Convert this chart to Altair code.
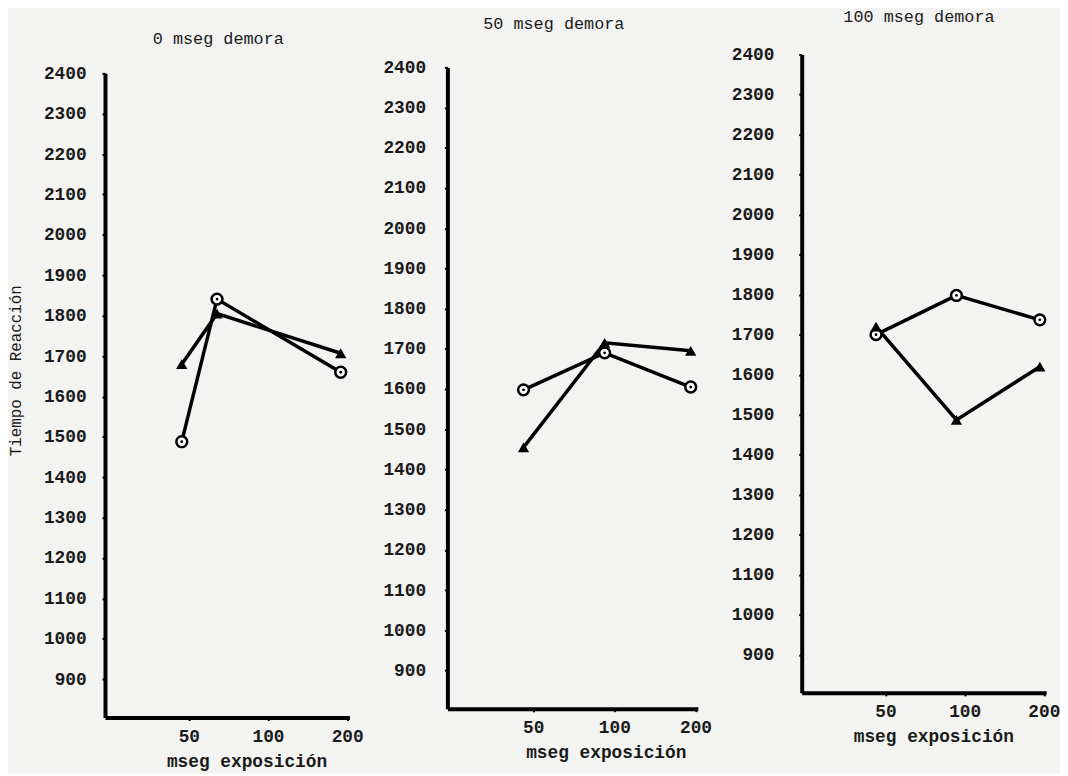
import altair as alt
import pandas as pd

# ---- data ----
panel_titles = ["0 mseg demora", "50 mseg demora", "100 mseg demora"]
exposure_ticks = [50, 100, 200]
rt_ticks = [900, 1000, 1100, 1200, 1300, 1400, 1500, 1600, 1700, 1800,
            1900, 2000, 2100, 2200, 2300, 2400]
series_names = ["circulo", "triangulo"]

# x positions (ms exposure, as plotted) and reaction times per panel
p1_x = [47, 64, 189]
p1_circle = [1488, 1841, 1660]
p1_triangle = [1680, 1805, 1707]

p2_x = [46, 92, 192]
p2_circle = [1598, 1690, 1605]
p2_triangle = [1455, 1715, 1695]

p3_x = [46, 93, 193]
p3_circle = [1700, 1798, 1737]
p3_triangle = [1720, 1487, 1620]

MONO = "Liberation Mono"
INK = "#1a1a1a"


def frame(xs, circ, tri):
    rows = []
    for x, c in zip(xs, circ):
        rows.append({"x": x, "y": c, "serie": series_names[0]})
    for x, t in zip(xs, tri):
        rows.append({"x": x, "y": t, "serie": series_names[1]})
    return pd.DataFrame(rows)


def spacer():
    return alt.Chart(pd.DataFrame({"v": [0]})).mark_point(size=1, opacity=0).encode(
        x=alt.value(0), y=alt.value(1)).properties(width=1, height=1)


def panel(df, title, title_offset, title_dx, width, height,
          label_pad, ytitle, xtitle_x):
    xenc = alt.X(
        "x:Q",
        scale=alt.Scale(type="log", domain=[24, 204], nice=False),
        axis=alt.Axis(values=exposure_ticks, format="d", title="mseg exposición",
                      titleX=xtitle_x, titleY=44, titleBaseline="middle",
                      titleAlign="center", labelPadding=7),
    )
    yaxis = dict(values=rt_ticks, format="d", labelPadding=label_pad)
    if ytitle:
        yaxis.update(title=ytitle, titleX=-90, titleY=300, titleAngle=270,
                     titleAlign="center", titleBaseline="middle",
                     titleFontWeight="normal", titleFontSize=16)
    else:
        yaxis.update(title=None)
    yenc = alt.Y("y:Q", scale=alt.Scale(domain=[805, 2400], nice=False, zero=False),
                 axis=alt.Axis(**yaxis))
    base = alt.Chart(df)
    line = base.mark_line(color="black", strokeWidth=3.5).encode(
        x=xenc, y=yenc, detail="serie:N")
    circles = base.transform_filter(alt.datum.serie == series_names[0]).mark_point(
        shape="circle", fill="white", stroke="black", strokeWidth=2.5,
        size=120, opacity=1, fillOpacity=1).encode(x=xenc, y=yenc)
    dots = base.transform_filter(alt.datum.serie == series_names[0]).mark_point(
        shape="circle", filled=True, color="black", size=8, opacity=1).encode(x=xenc, y=yenc)
    tris = base.transform_filter(alt.datum.serie == series_names[1]).mark_point(
        shape="triangle-up", filled=True, color="black", size=130,
        opacity=1).encode(x=xenc, y=yenc)
    return alt.layer(line, circles, dots, tris).properties(
        width=width, height=height,
        title=alt.TitleParams(text=title, font=MONO, fontSize=17, fontWeight="normal",
                              color=INK, offset=title_offset, anchor="middle",
                              dx=title_dx),
    )


c1 = panel(frame(p1_x, p1_circle, p1_triangle), panel_titles[0], 17, -9,
           247, 651, 16, "Tiempo de Reacción", 143)
c2 = panel(frame(p2_x, p2_circle, p2_triangle), panel_titles[1], 26, -19,
           253, 648, 19, None, 160)
c3 = panel(frame(p3_x, p3_circle, p3_triangle), panel_titles[2], 20, -5,
           247, 645, 25, None, 133)

col1 = alt.vconcat(spacer(), c1, spacing=22)
col2 = alt.vconcat(spacer(), c2, spacing=7)
col3 = alt.vconcat(spacer(), c3, spacing=0)

chart = alt.hconcat(col1, col2, col3, spacing=19).properties(
    padding={"left": 0, "top": -6, "right": 0, "bottom": 0},
    background="#f3f3f1",
).configure_view(stroke=None).configure_axis(
    grid=False,
    domainColor="black", domainWidth=4,
    tickColor="black", tickSize=3, tickWidth=2,
    labelFont=MONO, labelFontSize=18, labelFontWeight="bold", labelColor=INK,
    titleFont=MONO, titleFontSize=18, titleFontWeight="bold", titleColor=INK,
)

chart.save("out.html", embed_options={"renderer": "svg", "actions": False})
